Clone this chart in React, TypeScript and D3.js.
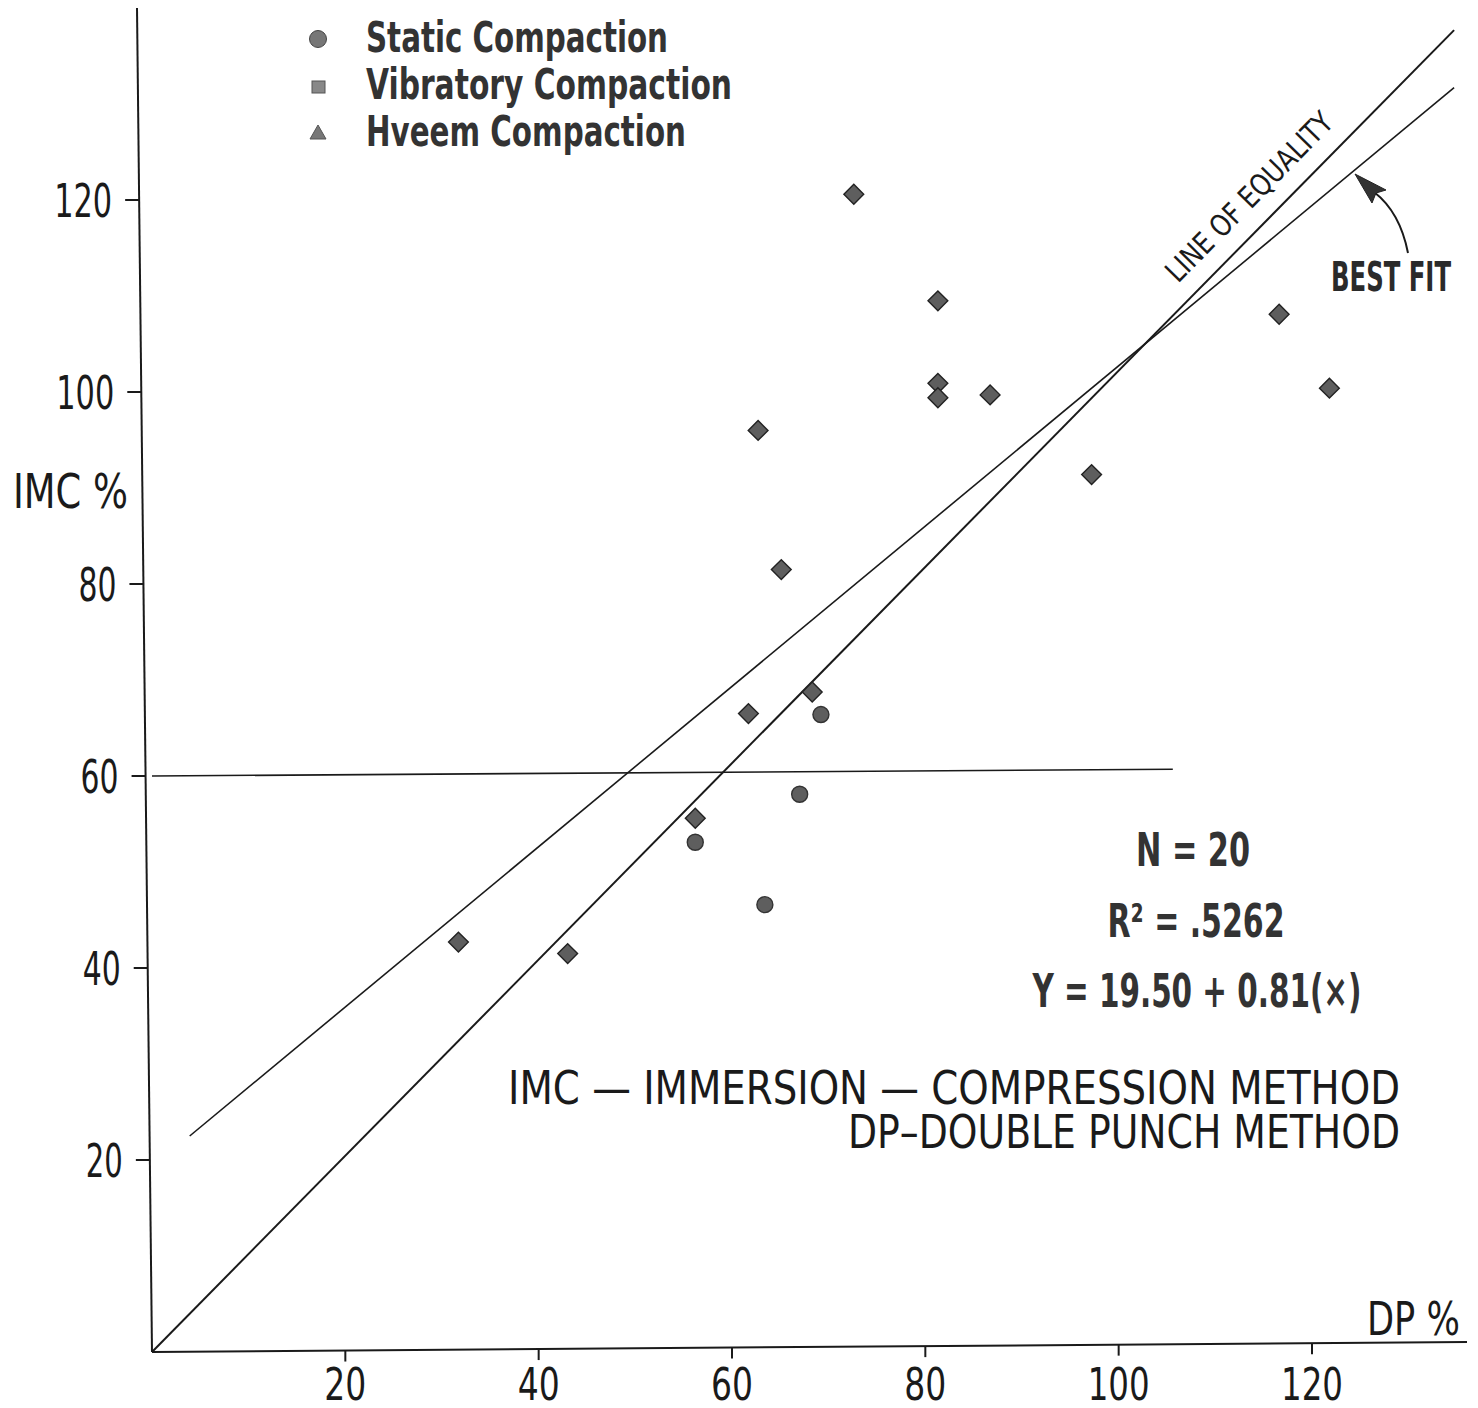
import React from "react";
import * as d3 from "d3";

// ---- data ----
const xTicks = [20, 40, 60, 80, 100, 120];
const yTicks = [20, 40, 60, 80, 100, 120];

// Diamonds (plotted points)
const diamondDP = [31.7, 43.0, 56.2, 61.7, 68.3, 62.7, 65.1, 72.6, 81.3, 81.3, 81.3, 86.7, 97.2, 116.6, 121.8];
const diamondIMC = [42.7, 41.5, 55.6, 66.5, 68.75, 96.0, 81.5, 120.6, 109.5, 100.9, 99.4, 99.7, 91.4, 108.1, 100.4];

// Circles (static compaction)
const circleDP = [56.2, 63.4, 67.0, 69.2];
const circleIMC = [53.1, 46.6, 58.1, 66.4];

// Reference lines (endpoints in data units)
const equalityLine: [number, number][] = [[0, 0], [134.7, 137.7]];
const bestFitLine: [number, number][] = [[3.9, 22.5], [134.7, 131.7]];
const line60: [number, number][] = [[0, 60], [105.6, 60.7]];

const legendLabels = ["Static Compaction", "Vibratory Compaction", "Hveem Compaction"];
const statsLabels = ["N = 20", "R² = .5262", "Y = 19.50 + 0.81(×)"];
const noteLabels = ["IMC — IMMERSION — COMPRESSION METHOD", "DP–DOUBLE PUNCH METHOD"];

const NARROW = "'Liberation Sans Narrow', 'DejaVu Sans Condensed', 'Liberation Sans', Arial, sans-serif";
const INK = "#1a1a1a";
const MARK_FILL = "#5e5e5e";

export default function App() {
  const x = d3.scaleLinear().domain([0, 120]).range([152, 1312]);
  const y = d3.scaleLinear().domain([0, 120]).range([1352, 200]);

  // slight scan skew for axis lines
  const axisXat = (py: number) => 137 + ((py - 8) * 15) / 1344;
  const axisYat = (px: number) => 1352 - ((px - 152) * 10) / 1315;

  const lineGen = d3.line<[number, number]>().x((d) => x(d[0])).y((d) => y(d[1]));

  const diamond = d3.symbol().type(d3.symbolDiamond2).size(250)();

  const yTickLabelLen: Record<number, number> = { 20: 37, 40: 38, 60: 38, 80: 38, 100: 58, 120: 58 };
  const xTickLabelLen: Record<number, number> = { 20: 42, 40: 42, 60: 42, 80: 42, 100: 62, 120: 62 };

  return (
    <svg
      width={1478}
      height={1408}
      style={{ position: "absolute", left: 0, top: 0, background: "#fff" }}
      fontFamily={NARROW}
    >
      <rect x={0} y={0} width={1478} height={1408} fill="#fff" />

      {/* Axes */}
      <line x1={137} y1={8} x2={152} y2={1352} stroke={INK} strokeWidth={2} />
      <line x1={152} y1={1352} x2={1467} y2={1342} stroke={INK} strokeWidth={2} />

      {/* Y ticks */}
      {yTicks.map((t) => {
        const py = y(t);
        const ax = axisXat(py);
        return (
          <g key={"yt" + t}>
            <line x1={ax - 14} y1={py} x2={ax} y2={py} stroke={INK} strokeWidth={2} />
            <text
              x={ax - 27}
              y={py + 17}
              textAnchor="end"
              fontSize={46}
              fill={INK}
              textLength={yTickLabelLen[t]}
              lengthAdjust="spacingAndGlyphs"
            >
              {t}
            </text>
          </g>
        );
      })}

      {/* X ticks */}
      {xTicks.map((t) => {
        const px = x(t);
        const ay = axisYat(px);
        return (
          <g key={"xt" + t}>
            <line x1={px} y1={ay} x2={px} y2={ay + 11} stroke={INK} strokeWidth={2} />
            <text
              x={px}
              y={1400}
              textAnchor="middle"
              fontSize={44}
              fill={INK}
              textLength={xTickLabelLen[t]}
              lengthAdjust="spacingAndGlyphs"
            >
              {t}
            </text>
          </g>
        );
      })}

      {/* Axis titles */}
      <text x={13} y={508} fontSize={48} fill={INK} textLength={115} lengthAdjust="spacingAndGlyphs">
        IMC %
      </text>
      <text x={1367} y={1335} fontSize={46} fill={INK} textLength={93} lengthAdjust="spacingAndGlyphs">
        DP %
      </text>

      {/* Lines */}
      <path d={lineGen(line60) || ""} fill="none" stroke={INK} strokeWidth={1.6} />
      <path d={lineGen(equalityLine) || ""} fill="none" stroke={INK} strokeWidth={2} />
      <path d={lineGen(bestFitLine) || ""} fill="none" stroke={INK} strokeWidth={1.6} />

      {/* Points */}
      {diamondDP.map((d, i) => (
        <path
          key={"d" + i}
          d={diamond || ""}
          transform={`translate(${x(d)},${y(diamondIMC[i])})`}
          fill={MARK_FILL}
          stroke="#222"
          strokeWidth={1.4}
        />
      ))}
      {circleDP.map((d, i) => (
        <circle key={"c" + i} cx={x(d)} cy={y(circleIMC[i])} r={8} fill={MARK_FILL} stroke="#333" strokeWidth={1.4} />
      ))}

      {/* Legend */}
      <circle cx={318} cy={39} r={8.5} fill="#777" stroke="#444" strokeWidth={1} />
      <rect x={312} y={81} width={13} height={12} fill="#888" stroke="#555" strokeWidth={1} />
      <path d="M318,125 L326,139 L310,139 Z" fill="#777" stroke="#555" strokeWidth={1} />
      {legendLabels.map((l, i) => (
        <text
          key={l}
          x={366}
          y={52 + i * 47}
          fontSize={42}
          fontWeight="bold"
          fill="#333"
          textLength={[302, 366, 320][i]}
          lengthAdjust="spacingAndGlyphs"
        >
          {l}
        </text>
      ))}

      {/* Line of equality label */}
      <text
        transform="translate(1178,284) rotate(-45.5)"
        fontSize={30}
        fill={INK}
        textLength={224}
        lengthAdjust="spacingAndGlyphs"
      >
        LINE OF EQUALITY
      </text>

      {/* Best fit label + arrow */}
      <text x={1331} y={291} fontSize={40} fontWeight="bold" fill="#2a2a2a" textLength={120} lengthAdjust="spacingAndGlyphs">
        BEST FIT
      </text>
      <path d="M1408,253 Q1400,212 1374,192" fill="none" stroke={INK} strokeWidth={2} />
      <path d="M1355,174 L1386,190 L1376,193 L1372,203 Z" fill="#333" stroke="#222" strokeWidth={1} />

      {/* Stats */}
      <text x={1193} y={866} textAnchor="middle" fontSize={46} fontWeight="bold" fill="#333" textLength={114} lengthAdjust="spacingAndGlyphs">
        {statsLabels[0]}
      </text>
      <text x={1196} y={937} textAnchor="middle" fontSize={46} fontWeight="bold" fill="#333" textLength={177} lengthAdjust="spacingAndGlyphs">
        {statsLabels[1]}
      </text>
      <text x={1197} y={1007} textAnchor="middle" fontSize={46} fontWeight="bold" fill="#333" textLength={329} lengthAdjust="spacingAndGlyphs">
        {statsLabels[2]}
      </text>

      {/* Notes */}
      <text x={1400} y={1104} textAnchor="end" fontSize={46} fill={INK} textLength={892} lengthAdjust="spacingAndGlyphs">
        {noteLabels[0]}
      </text>
      <text x={1400} y={1148} textAnchor="end" fontSize={46} fill={INK} textLength={552} lengthAdjust="spacingAndGlyphs">
        {noteLabels[1]}
      </text>
    </svg>
  );
}
